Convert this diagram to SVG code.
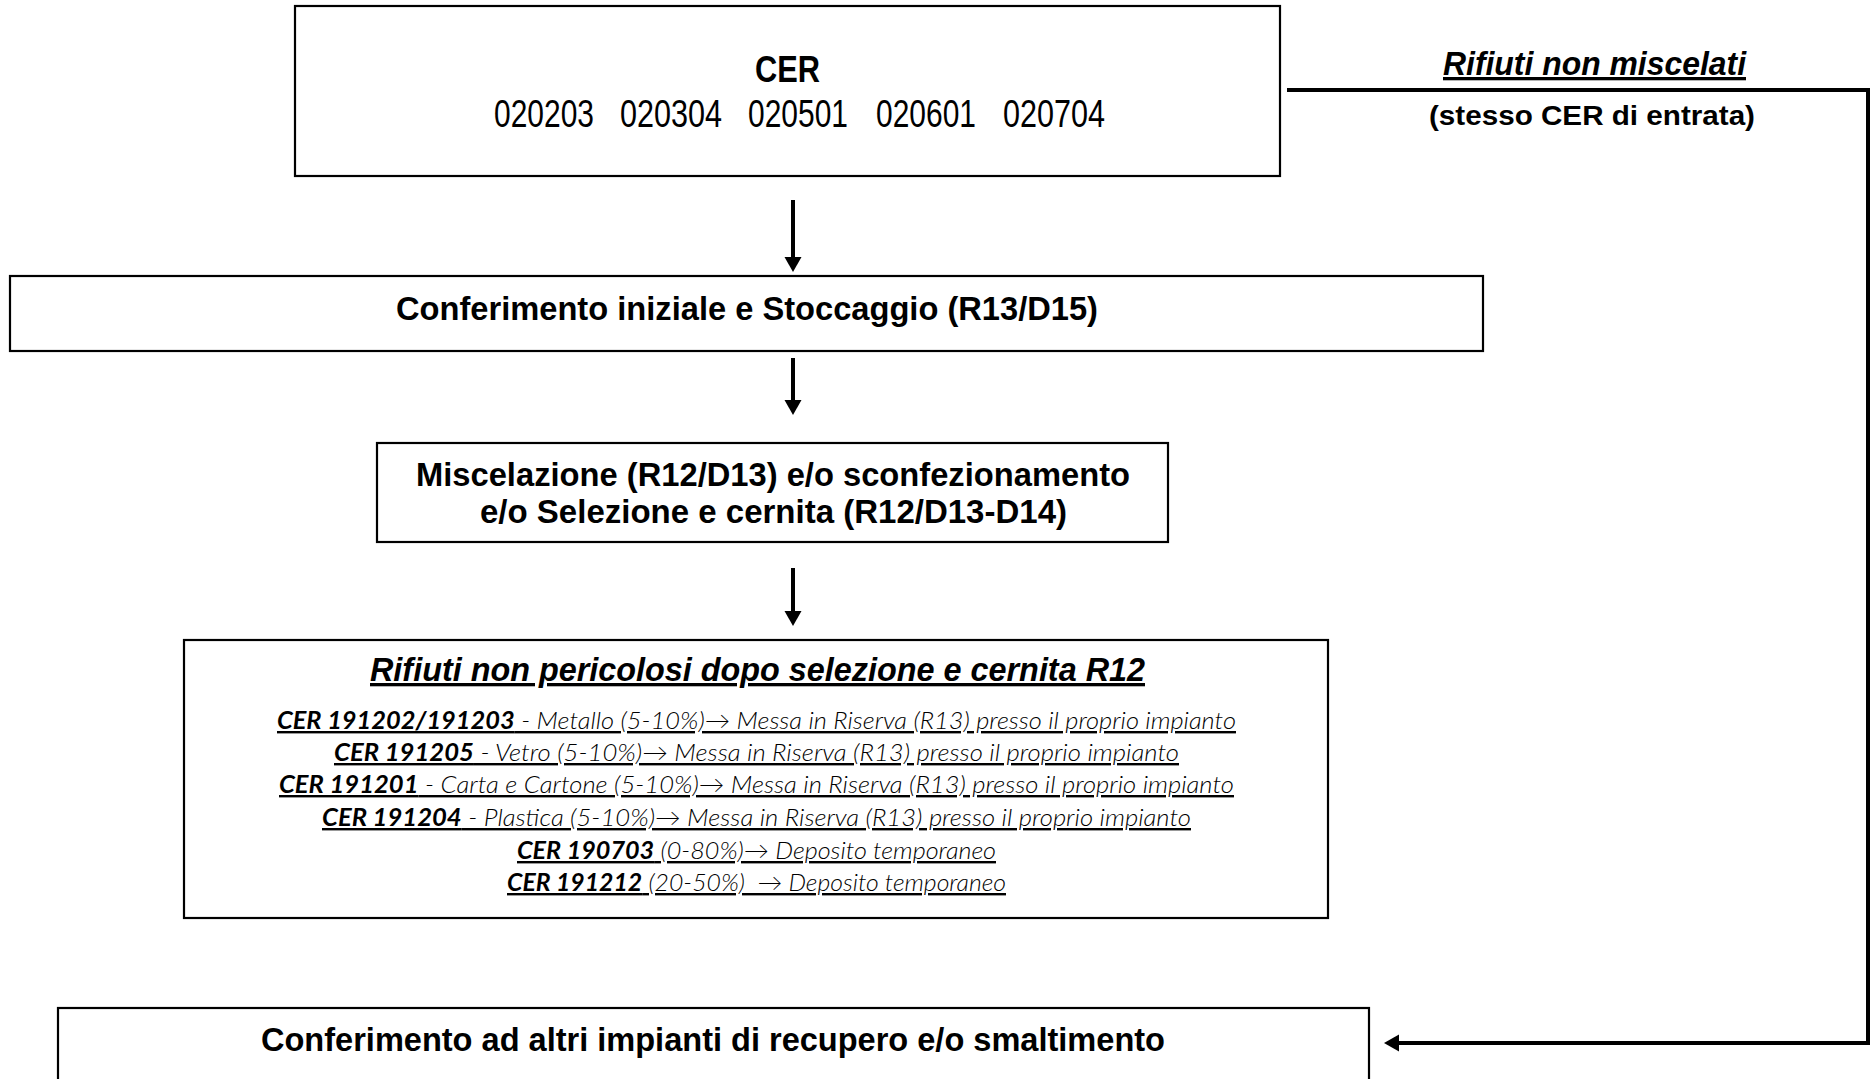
<svg xmlns="http://www.w3.org/2000/svg" width="1871" height="1079" viewBox="0 0 1871 1079">
  <style>
    .box { fill: #ffffff; stroke: #000000; stroke-width: 2.2; }
    .head { font-family: "Liberation Sans", Arial, sans-serif; font-weight: bold; font-size: 33px; fill: #000; }
    .code { font-family: "Liberation Sans", Arial, sans-serif; font-size: 38px; fill: #000; }
    .codeb { font-family: "Liberation Sans", Arial, sans-serif; font-weight: bold; font-size: 37px; fill: #000; }
    .title { font-family: "Liberation Sans", Arial, sans-serif; font-weight: bold; font-style: italic; font-size: 33px; fill: #000; text-decoration: underline; }
    .note { font-family: "Liberation Sans", Arial, sans-serif; font-weight: bold; font-size: 27px; fill: #000; }
    .item { font-family: Lato, "Open Sans", sans-serif; font-style: italic; font-weight: 300; font-size: 24px; fill: #000; text-decoration: underline; }
    .item .k { font-weight: bold; }
    .wire { fill: none; stroke: #000000; stroke-width: 4; }
  </style>
  <defs>
    <marker id="arrow" markerUnits="userSpaceOnUse" markerWidth="16" markerHeight="18" viewBox="0 -9 16 18" refX="0" refY="0" orient="auto">
      <path d="M0,-8.5 L15,0 L0,8.5 Z" fill="#000000"/>
    </marker>
  </defs>

  <rect width="1871" height="1079" fill="#ffffff"/>

  <!-- connectors -->
  <g id="connectors">
    <path class="wire" d="M793,200 V257" marker-end="url(#arrow)"/>
    <path class="wire" d="M793,358 V400" marker-end="url(#arrow)"/>
    <path class="wire" d="M793,568 V611" marker-end="url(#arrow)"/>
    <path class="wire" d="M1287,90 H1868 V1043 H1399" marker-end="url(#arrow)"/>
  </g>

  <!-- incoming waste codes -->
  <g id="node-cer">
    <rect class="box" x="295" y="6" width="985" height="170"/>
    <text class="codeb" x="755" y="82" textLength="65" lengthAdjust="spacingAndGlyphs">CER</text>
    <text class="code" x="494" y="127" textLength="100" lengthAdjust="spacingAndGlyphs">020203</text>
    <text class="code" x="620" y="127" textLength="102" lengthAdjust="spacingAndGlyphs">020304</text>
    <text class="code" x="748" y="127" textLength="100" lengthAdjust="spacingAndGlyphs">020501</text>
    <text class="code" x="876" y="127" textLength="100" lengthAdjust="spacingAndGlyphs">020601</text>
    <text class="code" x="1003" y="127" textLength="102" lengthAdjust="spacingAndGlyphs">020704</text>
  </g>

  <!-- bypass label -->
  <g id="label-bypass">
    <text class="title" x="1443" y="75" textLength="303" lengthAdjust="spacingAndGlyphs">Rifiuti non miscelati</text>
    <text class="note" x="1429" y="125" textLength="326" lengthAdjust="spacingAndGlyphs">(stesso CER di entrata)</text>
  </g>

  <g id="node-stoccaggio">
    <rect class="box" x="10" y="276" width="1473" height="75"/>
    <text class="head" x="396" y="320" textLength="702" lengthAdjust="spacingAndGlyphs">Conferimento iniziale e Stoccaggio (R13/D15)</text>
  </g>

  <g id="node-miscelazione">
    <rect class="box" x="377" y="443" width="791" height="99"/>
    <text class="head" x="416" y="486" textLength="714" lengthAdjust="spacingAndGlyphs">Miscelazione (R12/D13) e/o sconfezionamento</text>
    <text class="head" x="480" y="523" textLength="587" lengthAdjust="spacingAndGlyphs">e/o Selezione e cernita (R12/D13-D14)</text>
  </g>

  <g id="node-selezione">
    <rect class="box" x="184" y="640" width="1144" height="278"/>
    <text class="title" x="370" y="681" textLength="775" lengthAdjust="spacingAndGlyphs">Rifiuti non pericolosi dopo selezione e cernita R12</text>
    <text class="item" x="277" y="729" textLength="959" lengthAdjust="spacingAndGlyphs"><tspan class="k">CER 191202/191203</tspan> - Metallo (5-10%)→ Messa in Riserva (R13) presso il proprio impianto</text>
    <text class="item" x="334" y="761" textLength="845" lengthAdjust="spacingAndGlyphs"><tspan class="k">CER 191205</tspan> - Vetro (5-10%)→ Messa in Riserva (R13) presso il proprio impianto</text>
    <text class="item" x="279" y="793" textLength="955" lengthAdjust="spacingAndGlyphs"><tspan class="k">CER 191201</tspan> - Carta e Cartone (5-10%)→ Messa in Riserva (R13) presso il proprio impianto</text>
    <text class="item" x="322" y="826" textLength="869" lengthAdjust="spacingAndGlyphs"><tspan class="k">CER 191204</tspan> - Plastica (5-10%)→ Messa in Riserva (R13) presso il proprio impianto</text>
    <text class="item" x="517" y="859" textLength="479" lengthAdjust="spacingAndGlyphs"><tspan class="k">CER 190703</tspan> (0-80%)→ Deposito temporaneo</text>
    <text class="item" x="507" y="891" textLength="499" lengthAdjust="spacingAndGlyphs" xml:space="preserve"><tspan class="k">CER 191212</tspan> (20-50%)  → Deposito temporaneo</text>
  </g>

  <g id="node-conferimento">
    <rect class="box" x="58" y="1008" width="1311" height="90"/>
    <text class="head" x="261" y="1051" textLength="904" lengthAdjust="spacingAndGlyphs">Conferimento ad altri impianti di recupero e/o smaltimento</text>
  </g>
</svg>
